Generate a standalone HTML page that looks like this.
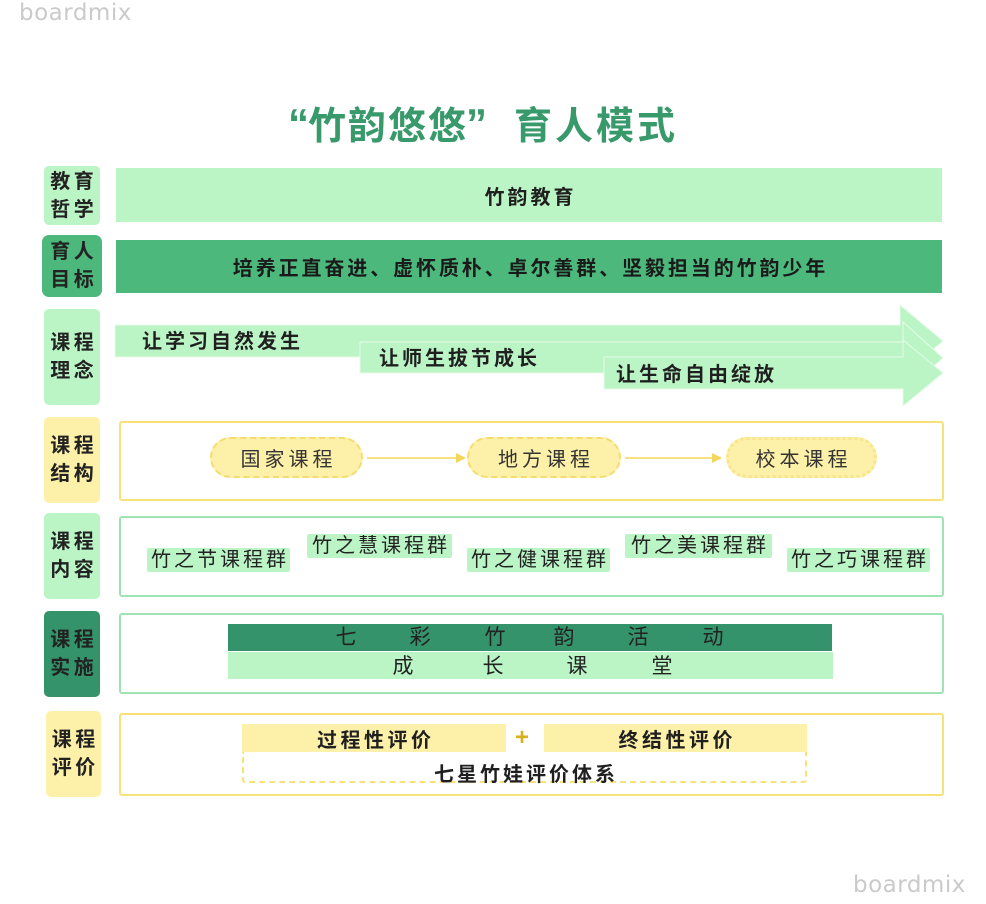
<!DOCTYPE html>
<html><head><meta charset="utf-8"><style>
*{margin:0;padding:0;box-sizing:border-box}
body{width:986px;height:904px;background:#fff;position:relative;overflow:hidden;font-family:"Liberation Sans","Noto Sans CJK SC",sans-serif;color:#1f1f1f}
.a{position:absolute}
.c{position:absolute;display:flex;align-items:center;justify-content:center;text-align:center}
.lbl{position:absolute;display:flex;align-items:center;justify-content:center;font-size:20px;font-weight:bold;line-height:28px;letter-spacing:3.5px;padding-left:3.5px;border-radius:5px;color:#222}
.lg{background:#bbf5c6}
.yl{background:#fdf0a8}
.box{position:absolute;left:119px;width:825px;border-radius:3px;background:#fff}
.ybox{border:2px solid #f7e27a}
.gbox{border:2px solid #9ee3b4}
.tag{position:absolute;background:#bbf5c6;font-size:20px;letter-spacing:3px;padding-left:3px;display:flex;align-items:center;justify-content:center;color:#222;height:24px;line-height:24px;border-radius:2px}
.pill{position:absolute;top:437px;height:41px;background:#fdf0a8;border:2px dashed #f5dc6e;border-radius:21px;display:flex;align-items:center;justify-content:center;font-size:20px;letter-spacing:4px;padding-left:4px;color:#333}
.ch{position:absolute;width:30px;text-align:center;font-size:21px;color:#222}
</style></head><body>

<div class="a" style="left:19px;top:0px;font-size:23px;color:#cacaca;font-family:'DejaVu Sans','Liberation Sans',sans-serif;letter-spacing:0.5px">boardmix</div>
<div class="a" style="left:853px;top:872px;font-size:23px;color:#cacaca;font-family:'DejaVu Sans','Liberation Sans',sans-serif;letter-spacing:0.5px">boardmix</div>

<!-- title -->
<div class="a" style="left:288px;top:100px;font-size:42px;font-weight:bold;color:#38996b;font-family:'Liberation Sans',sans-serif">“</div>
<div class="a" style="left:308px;top:98px;font-size:38px;font-weight:bold;color:#38996b;letter-spacing:2px;line-height:50px;font-family:'Noto Sans CJK SC',sans-serif">竹韵悠悠</div>
<div class="a" style="left:466px;top:100px;font-size:42px;font-weight:bold;color:#38996b;font-family:'Liberation Sans',sans-serif">”</div>
<div class="a" style="left:514px;top:98px;font-size:38px;font-weight:bold;color:#38996b;letter-spacing:3px;line-height:50px;font-family:'Noto Sans CJK SC',sans-serif">育人模式</div>

<!-- left labels -->
<div class="lbl lg" style="left:44px;top:166px;width:56px;height:59px">教育<br>哲学</div>
<div class="lbl" style="left:42px;top:235px;width:60px;height:62px;background:#4cb87c;border-radius:7px">育人<br>目标</div>
<div class="lbl lg" style="left:44px;top:309px;width:56px;height:96px">课程<br>理念</div>
<div class="lbl yl" style="left:44px;top:417px;width:56px;height:86px">课程<br>结构</div>
<div class="lbl lg" style="left:44px;top:513px;width:56px;height:86px">课程<br>内容</div>
<div class="lbl" style="left:44px;top:611px;width:56px;height:86px;background:#34936a">课程<br>实施</div>
<div class="lbl yl" style="left:46px;top:711px;width:55px;height:86px">课程<br>评价</div>

<!-- row bars -->
<div class="c" style="left:116px;top:168px;width:826px;height:54px;background:#bbf5c6;font-size:20px;font-weight:bold;letter-spacing:3px;padding-left:3px">竹韵教育</div>
<div class="c" style="left:116px;top:240px;width:826px;height:53px;background:#4cb87c;font-size:20px;font-weight:bold;letter-spacing:2.9px;padding-left:3px;color:#1a1a1a">培养正直奋进、虚怀质朴、卓尔善群、坚毅担当的竹韵少年</div>

<!-- arrows -->
<svg class="a" style="left:0;top:0" width="986" height="904">
<polygon points="115,325 900,325 900,305 943,341 900,377 900,357 115,357" fill="#bbf5c6" stroke="#e4fbe8" stroke-width="1"/>
<polygon points="360,342 903,342 903,322 943,358 903,393 903,373 360,373" fill="#bbf5c6" stroke="#e4fbe8" stroke-width="1"/>
<polygon points="604,357 903,357 903,340 943,373 903,406 903,389 604,389" fill="#bbf5c6" stroke="#e4fbe8" stroke-width="1"/>
</svg>
<div class="a" style="left:142px;top:329px;font-size:20px;font-weight:bold;letter-spacing:3px;line-height:26px">让学习自然发生</div>
<div class="a" style="left:379px;top:346px;font-size:20px;font-weight:bold;letter-spacing:3px;line-height:26px">让师生拔节成长</div>
<div class="a" style="left:616px;top:362px;font-size:20px;font-weight:bold;letter-spacing:3px;line-height:26px">让生命自由绽放</div>

<!-- structure -->
<div class="box ybox" style="top:421px;height:80px"></div>
<div class="pill" style="left:210px;width:153px">国家课程</div>
<div class="pill" style="left:467px;width:154px">地方课程</div>
<div class="pill" style="left:726px;width:151px;border-style:dotted;border-width:3px;border-color:#f8e48a">校本课程</div>
<svg class="a" style="left:0;top:0" width="986" height="904">
<line x1="367" y1="458" x2="458" y2="458" stroke="#f5d65a" stroke-width="1.6"/>
<polygon points="456,453 466,458 456,463" fill="#f5d65a"/>
<line x1="625" y1="458" x2="714" y2="458" stroke="#f5d65a" stroke-width="1.6"/>
<polygon points="712,453 722,458 712,463" fill="#f5d65a"/>
</svg>

<!-- content -->
<div class="box gbox" style="top:516px;height:81px"></div>
<div class="tag" style="left:147px;top:548px;width:143px">竹之节课程群</div>
<div class="tag" style="left:307px;top:534px;width:145px">竹之慧课程群</div>
<div class="tag" style="left:467px;top:548px;width:143px">竹之健课程群</div>
<div class="tag" style="left:625px;top:534px;width:147px">竹之美课程群</div>
<div class="tag" style="left:787px;top:548px;width:143px">竹之巧课程群</div>

<!-- implementation -->
<div class="box gbox" style="top:613px;height:81px"></div>
<div class="a" style="left:228px;top:624px;width:604px;height:27px;background:#34936a"></div>
<div class="a" style="left:228px;top:652px;width:605px;height:27px;background:#bbf5c6"></div>
<div class="ch" style="left:331px;top:624px;line-height:27px">七</div>
<div class="ch" style="left:405px;top:624px;line-height:27px">彩</div>
<div class="ch" style="left:480px;top:624px;line-height:27px">竹</div>
<div class="ch" style="left:549px;top:624px;line-height:27px">韵</div>
<div class="ch" style="left:623px;top:624px;line-height:27px">活</div>
<div class="ch" style="left:698px;top:624px;line-height:27px">动</div>
<div class="ch" style="left:388px;top:653px;line-height:27px">成</div>
<div class="ch" style="left:478px;top:653px;line-height:27px">长</div>
<div class="ch" style="left:562px;top:653px;line-height:27px">课</div>
<div class="ch" style="left:647px;top:653px;line-height:27px">堂</div>

<!-- evaluation -->
<div class="box ybox" style="top:713px;height:83px"></div>
<div class="a" style="left:242px;top:752px;width:565px;height:31px;border:2px dashed #f7e27a;border-top:none;border-radius:0 0 3px 3px"></div>
<div class="c" style="left:242px;top:724px;width:264px;height:28px;background:#fdf0a8;font-size:20px;font-weight:bold;letter-spacing:3.5px;padding-left:3.5px">过程性评价</div>
<div class="c" style="left:544px;top:724px;width:263px;height:28px;background:#fdf0a8;font-size:20px;font-weight:bold;letter-spacing:3.5px;padding-left:3.5px">终结性评价</div>
<div class="c" style="left:510px;top:724px;width:24px;height:28px;font-size:24px;font-weight:bold;color:#d4b21c">+</div>
<div class="c" style="left:242px;top:759px;width:565px;height:26px;font-size:20px;font-weight:bold;letter-spacing:3px;padding-left:3px">七星竹娃评价体系</div>

</body></html>
